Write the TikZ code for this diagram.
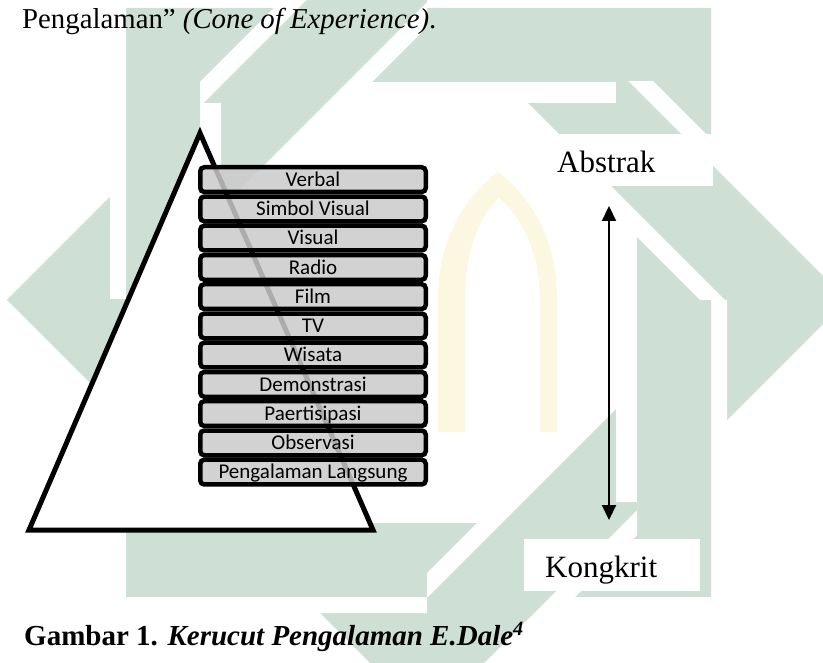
\documentclass[tikz,border=0pt]{standalone}
\usepackage{fontspec}
\setmainfont{Liberation Serif}
\newfontfamily\calibrifont{Carlito}
\usetikzlibrary{arrows.meta}
\definecolor{wm}{RGB}{206,224,213}
\definecolor{wmy}{RGB}{252,247,224}
\definecolor{boxgray}{RGB}{203,203,203}
\newcommand{\wmdiamond}{%
  \fill[white,even odd rule] (427-445,300) -- (427,300-445) -- (427+445,300) -- (427,300+445) -- cycle
        (427-273,300) -- (427,300-273) -- (427+273,300) -- (427,300+273) -- cycle;
  \fill[wm,even odd rule] (427-420,300) -- (427,300-420) -- (427+420,300) -- (427,300+420) -- cycle
        (427-298,300) -- (427,300-298) -- (427+298,300) -- (427,300+298) -- cycle;}
\begin{document}
\begin{tikzpicture}[x=1pt,y=-1pt,
  cbox/.style={draw=black,line width=4.5pt,rounded corners=4pt,fill=boxgray,fill opacity=0.85,text opacity=1,
    minimum width=225.5pt,minimum height=24.75pt,inner sep=0pt,text height=13.5pt,text depth=0pt,
    font=\calibrifont\fontsize{21}{21}\selectfont},
  side/.style={anchor=base west,inner sep=0pt,font=\fontsize{31}{31}\selectfont},
  mytip/.tip={Triangle[length=15pt,width=14pt]}]
\useasboundingbox (0,0) rectangle (823,663);
\fill[white] (0,0) rectangle (823,663);
% watermark
\begin{scope}
  \clip (0,0) rectangle (823,663);
  \wmdiamond
  \fill[white,even odd rule] (110,-8) rectangle (727,613) (221,103) rectangle (616,502);
  \fill[wm,even odd rule] (126,8) rectangle (711,597) (200,82) rectangle (637,523);
  \begin{scope}\clip (200,-20) rectangle (427,103); \wmdiamond \end{scope}
  \begin{scope}\clip (616,82) rectangle (850,300); \wmdiamond \end{scope}
  \begin{scope}\clip (427,502) rectangle (637,700); \wmdiamond \end{scope}
  \begin{scope}\clip (-20,300) rectangle (221,523); \wmdiamond \end{scope}
  \fill[wmy] (438,432) -- (438,300) .. controls (438,235) and (468,195) .. (498,172)
     .. controls (528,195) and (557,235) .. (557,300) -- (557,432) -- (540,432) -- (540,300)
     .. controls (540,250) and (520,215) .. (499,198) .. controls (480,215) and (465,250) .. (465,300)
     -- (465,432) -- cycle;
\end{scope}
% cone
\coordinate (apex) at (200,133);
\coordinate (bl) at (29,530);
\coordinate (br) at (373,530);
\draw[line width=5pt,fill=white,line join=miter] (apex) -- (bl) -- (br) -- cycle;
% boxes
\node[cbox] (b1) at (313,179.6) {Verbal};
\node[cbox] (b2) at (313,208.9) {Simbol Visual};
\node[cbox] (b3) at (313,238.1) {Visual};
\node[cbox] (b4) at (313,267.4) {Radio};
\node[cbox] (b5) at (313,296.6) {Film};
\node[cbox] (b6) at (313,325.9) {TV};
\node[cbox] (b7) at (313,355.1) {Wisata};
\node[cbox] (b8) at (313,384.4) {Demonstrasi};
\node[cbox] (b9) at (313,413.6) {Paertisipasi};
\node[cbox] (b10) at (313,442.9) {Observasi};
\node[cbox] (b11) at (313,472.1) {Pengalaman Langsung};
% side labels
\fill[white] (537,134) rectangle (713,186);
\node[side] (abs) at (557,173) {Abstrak};
\fill[white] (524,539) rectangle (700,591);
\node[side] (kon) at (545,577) {Kongkrit};
\coordinate (aT) at (609,206);
\coordinate (aB) at (609,520);
\draw[line width=2.2pt,mytip-mytip] (aT) -- (aB);
% texts
\node[anchor=base west,inner sep=0pt] (title) at (22,29)
  {\fontsize{28.8}{28.8}\selectfont Pengalaman” \textit{(Cone of Experience)}.};
\node[anchor=base west,inner sep=0pt] (cap) at (24,645)
  {\fontsize{29}{29}\selectfont\textbf{Gambar 1.} \textbf{\textit{Kerucut Pengalaman E.Dale}}\textsuperscript{\textbf{\textit{4}}}};
\end{tikzpicture}
\end{document}
